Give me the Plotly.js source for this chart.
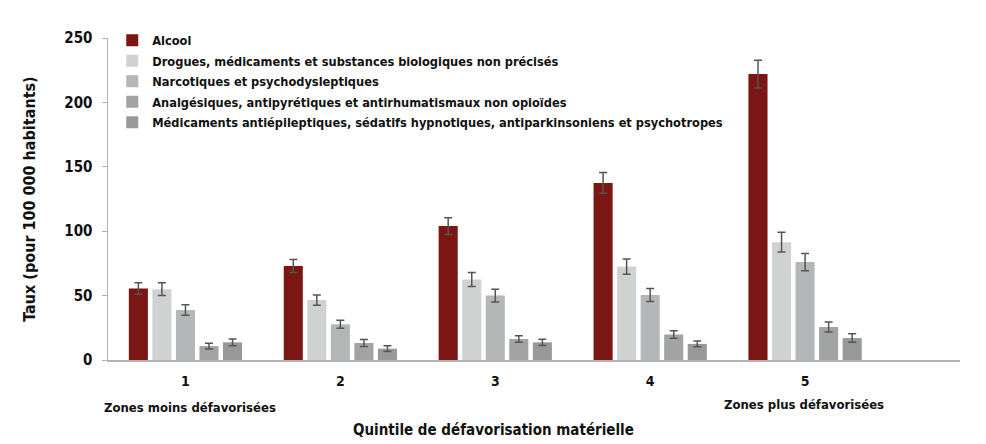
<!DOCTYPE html>
<html>
<head>
<meta charset="utf-8">
<script src="https://cdn.plot.ly/plotly-3.0.1.min.js"></script>
<style>html,body{margin:0;padding:0;background:#fff;}#chart{width:986px;height:444px;}</style>
</head>
<body>
<div id="chart"></div>
<script>
var categories = ['1', '2', '3', '4', '5'];
var seriesNames = [
  'Alcool',
  'Drogues, médicaments et substances biologiques non précisés',
  'Narcotiques et psychodysleptiques',
  'Analgésiques, antipyrétiques et antirhumatismaux non opioïdes',
  'Médicaments antiépileptiques, sédatifs hypnotiques, antiparkinsoniens et psychotropes'
];
var alcool = [55.5, 73, 104, 137.5, 222];
var alcoolErr = [4.5, 5, 6.5, 8, 10.8];
var drogues = [55, 46.5, 62.5, 72.5, 91.5];
var droguesErr = [5, 4, 5.5, 6, 7.6];
var narcotiques = [38.8, 27.7, 50, 50.5, 76];
var narcotiquesErr = [4, 3.1, 5, 5, 6.7];
var analgesiques = [10.8, 13.2, 16.3, 19.8, 25.6];
var analgesiquesErr = [2.2, 2.7, 2.5, 3, 3.9];
var medicaments = [13.7, 8.8, 13.7, 12.5, 17];
var medicamentsErr = [2.6, 2.2, 2.5, 2.3, 3.3];
var yTicks = [0, 50, 100, 150, 200, 250];

var FONT = 'Liberation Sans Narrow, DejaVu Sans Condensed, Arial Narrow, sans-serif';
var colors = ['#7a1614', '#d0d2d1', '#b4b7b7', '#a2a3a3', '#97989a'];
var values = [alcool, drogues, narcotiques, analgesiques, medicaments];
var errs = [alcoolErr, droguesErr, narcotiquesErr, analgesiquesErr, medicamentsErr];

var traces = values.map(function (v, i) {
  return {
    type: 'bar',
    name: seriesNames[i],
    legendgroup: 'g' + i,
    x: categories,
    y: v,
    marker: {color: colors[i]},
    error_y: {type: 'data', array: errs[i], visible: true, color: '#555555', thickness: 1.5, width: 4}
  };
});

var layout = {
  width: 986, height: 444,
  margin: {l: 108, r: 26, t: 38, b: 84},
  paper_bgcolor: '#ffffff', plot_bgcolor: '#ffffff',
  barmode: 'group', bargap: 0.24, bargroupgap: 0.19,
  font: {family: FONT, color: '#111111', size: 13, weight: 'bold'},
  showlegend: true,
  legend: {
    x: 0.005, y: 1.039, xanchor: 'left', yanchor: 'top',
    bgcolor: 'rgba(0,0,0,0)',
    font: {family: FONT, size: 12.7, color: '#111111', weight: 'bold'},
    traceorder: 'grouped', tracegroupgap: 1
  },
  xaxis: {
    type: 'category',
    range: [-0.5, 5],
    showline: true, linecolor: '#b3b3b3', linewidth: 2,
    ticks: '', showgrid: false, zeroline: false,
    ticklabelstandoff: 7,
    tickfont: {family: FONT, size: 14, color: '#111111', weight: 'bold'}
  },
  yaxis: {
    range: [0, 250],
    tickvals: yTicks,
    showline: true, linecolor: '#b3b3b3', linewidth: 1.5,
    ticks: 'outside', ticklen: 5, tickcolor: '#b3b3b3', tickwidth: 1,
    showgrid: false, zeroline: false,
    tickfont: {family: FONT, size: 15, color: '#111111', weight: 'bold'},
    ticklabelstandoff: 6,
    title: {text: 'Taux (pour 100 000 habitants)', font: {family: FONT, size: 16, color: '#111111', weight: 'bold'}, standoff: 24}
  },
  annotations: [
    {text: 'Zones moins défavorisées', xref: 'paper', yref: 'paper', x: 0.096, y: -0.146, xanchor: 'center', yanchor: 'middle', showarrow: false,
     font: {family: FONT, size: 13, color: '#111111', weight: 'bold'}},
    {text: 'Zones plus défavorisées', xref: 'paper', yref: 'paper', x: 0.817, y: -0.137, xanchor: 'center', yanchor: 'middle', showarrow: false,
     font: {family: FONT, size: 13, color: '#111111', weight: 'bold'}},
    {text: 'Quintile de défavorisation matérielle', xref: 'paper', yref: 'paper', x: 0.452, y: -0.217, xanchor: 'center', yanchor: 'middle', showarrow: false,
     font: {family: FONT, size: 15, color: '#111111', weight: 'bold'}}
  ]
};

Plotly.newPlot('chart', traces, layout, {displayModeBar: false, staticPlot: true});
</script>
</body>
</html>
